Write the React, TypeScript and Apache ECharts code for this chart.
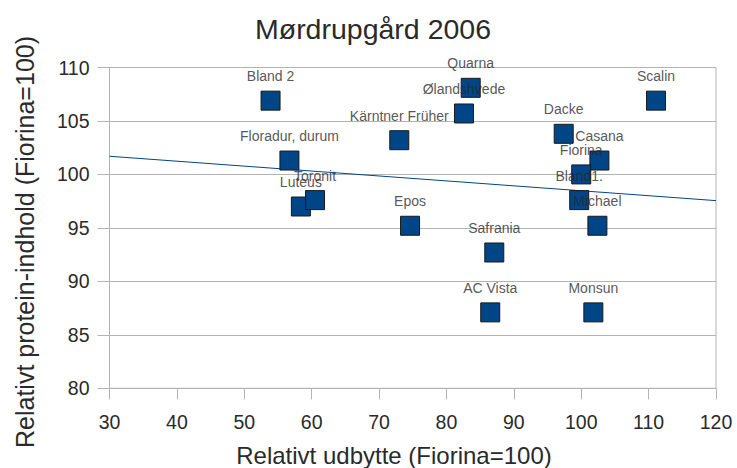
import React, { useEffect, useRef } from "react";
import * as echarts from "echarts";

const varieties = ["Bland 2", "Quarna", "Ølandshvede", "Kärntner Früher", "Floradur, durum", "Luteus", "Toronit", "Epos", "Dacke", "Scalin", "Casana", "Fiorina", "Bland1.", "Michael", "Safrania", "AC Vista", "Monsun"];
const relYield = [53.9, 83.6, 82.6, 73.0, 56.7, 58.4, 60.5, 74.6, 97.4, 111.1, 102.7, 100, 99.7, 102.4, 87.1, 86.5, 101.8];
const relProtein = [106.9, 108.1, 105.7, 103.2, 101.3, 97.0, 97.6, 95.2, 103.8, 106.9, 101.3, 100, 97.6, 95.2, 92.7, 87.1, 87.1];
const trendX = [30, 120];
const trendY = [101.7, 97.55];

const titleText = "Mørdrupgård 2006";
const xTitle = "Relativt udbytte (Fiorina=100)";
const yTitle = "Relativt protein-indhold (Fiorina=100)";

const FONT = "Liberation Sans";

export default function App() {
  const ref = useRef<HTMLDivElement>(null);
  useEffect(() => {
    if (!ref.current) return;
    const chart = echarts.init(ref.current, null, { renderer: "svg" });
    const pts = varieties.map((n, i) => ({ name: n, value: [relYield[i], relProtein[i]] }));
    chart.setOption({
      animation: false,
      backgroundColor: "#ffffff",
      textStyle: { fontFamily: FONT },
      grid: { left: 109.5, top: 67.5, right: 21, bottom: 79.7, show: true, borderColor: "#b3b3b3", borderWidth: 1 },
      xAxis: {
        type: "value", min: 30, max: 120, interval: 10,
        axisLine: { show: true, lineStyle: { color: "#b3b3b3" } },
        axisTick: { show: true, length: 11, inside: false, lineStyle: { color: "#b3b3b3" } },
        axisLabel: { color: "#2a2a2a", fontSize: 19.5, fontFamily: FONT, margin: 24 },
        splitLine: { show: false },
      },
      yAxis: {
        type: "value", min: 80, max: 110, interval: 5,
        axisLine: { show: true, lineStyle: { color: "#b3b3b3" } },
        axisTick: { show: true, length: 12, inside: false, lineStyle: { color: "#b3b3b3" } },
        axisLabel: { color: "#2a2a2a", fontSize: 19.5, fontFamily: FONT, margin: 20 },
        splitLine: { show: true, lineStyle: { color: "#b3b3b3", width: 1 } },
      },
      graphic: [
        { type: "text", x: 373, y: 29, style: { text: titleText, fontSize: 28.5, fontFamily: FONT, fill: "#2a2a2a", align: "center", verticalAlign: "middle" } },
        { type: "text", x: 394, y: 455.5, style: { text: xTitle, fontSize: 24, fontFamily: FONT, fill: "#2a2a2a", align: "center", verticalAlign: "middle" } },
        { type: "text", x: 24.6, y: 242, rotation: Math.PI / 2, style: { text: yTitle, fontSize: 25, fontFamily: FONT, fill: "#2a2a2a", align: "center", verticalAlign: "middle" } },
      ],
      series: [
        {
          type: "line",
          data: trendX.map((x, i) => [x, trendY[i]]),
          symbol: "none",
          lineStyle: { color: "#004586", width: 1 },
          silent: true,
          z: 1,
        },
        {
          type: "scatter",
          data: pts,
          symbol: "rect",
          symbolSize: 19,
          itemStyle: { color: "#004586", borderColor: "#1a1a1a", borderWidth: 1, opacity: 1 },
          z: 3,
        },
        {
          type: "scatter",
          data: pts,
          symbol: "rect",
          symbolSize: 1,
          itemStyle: { color: "rgba(0,0,0,0)", borderWidth: 0 },
          label: {
            show: true,
            position: "top",
            distance: 17,
            formatter: (p: any) => p.name,
            color: "#2a2a2a",
            fontSize: 14,
            fontFamily: FONT,
          },
          labelLayout: { hideOverlap: false },
          silent: true,
          z: 5,
        },
      ],
    });
    return () => chart.dispose();
  }, []);
  return <div ref={ref} style={{ width: 737, height: 468, position: "absolute", left: 0, top: 0 }} />;
}
